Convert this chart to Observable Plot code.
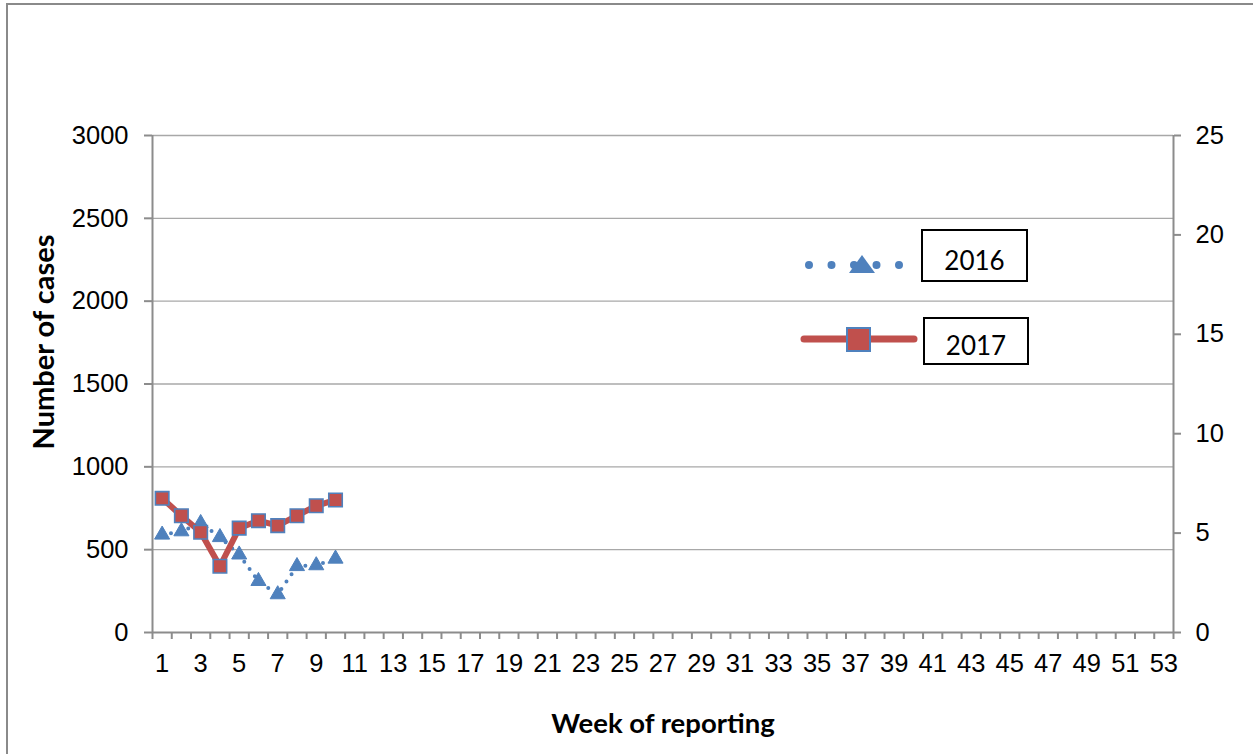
<!DOCTYPE html>
<html>
<head>
<meta charset="utf-8">
<script src="https://cdn.jsdelivr.net/npm/d3@7"></script>
<script src="https://cdn.jsdelivr.net/npm/@observablehq/plot@0.6"></script>
<style>
  html, body { margin: 0; padding: 0; background: #fff; overflow: hidden; }
  #wrap { position: relative; width: 1253px; height: 754px; overflow: hidden; }
  #frame { position: absolute; left: 6px; top: 3px; width: 1247px; height: 751px;
           border-left: 2px solid #8a8a8a; border-top: 2px solid #8a8a8a; box-sizing: border-box; }
  #chart { position: absolute; left: 0; top: 0; }
  .lgbox { position: absolute; border: 2px solid #000; box-sizing: border-box; background: #fff;
           font-family: Lato, "Open Sans", sans-serif; font-size: 26px; color: #000;
           display: flex; align-items: center; justify-content: center; }
  #lgsvg { position: absolute; left: 0; top: 0; }
</style>
</head>
<body>
<div id="wrap">
  <div id="frame"></div>
  <div id="chart"></div>
</div>
<script>
// ---- data ----
const weeks = [1, 2, 3, 4, 5, 6, 7, 8, 9, 10];
const cases2016 = [590, 610, 660, 575, 470, 310, 230, 400, 405, 445];
const cases2017 = [810, 705, 605, 400, 630, 675, 645, 705, 765, 800];
const seriesNames = ["2016", "2017"];
const weekLabels = d3.range(1, 54, 2);          // 1, 3, ..., 53
const leftTicks = [0, 500, 1000, 1500, 2000, 2500, 3000];
const rightTicks = [0, 5, 10, 15, 20, 25];
const rightMax = 25, leftMax = 3000;

const blue = "#4F81BD", red = "#C0504D", axisGray = "#8c8c8c", gridGray = "#a8a8a8";

const d2016 = weeks.map((w, i) => ({week: w, value: cases2016[i]}));
const d2017 = weeks.map((w, i) => ({week: w, value: cases2017[i]}));
const ratio = leftMax / rightMax;

const W = 1253, H = 754;
const mL = 152, mR = 80, mT = 135, mB = 122;
const tickFont = 25.5;

const chart = Plot.plot({
  width: W, height: H,
  marginLeft: mL, marginRight: mR, marginTop: mT, marginBottom: mB,
  style: {fontFamily: '"Liberation Sans", Arial, sans-serif', fontSize: "24px", color: "#000", background: "transparent", overflow: "visible"},
  x: {domain: [0.5, 53.5], axis: null},
  y: {domain: [0, leftMax], axis: null},
  marks: [
    Plot.gridY(leftTicks.slice(1), {stroke: gridGray, strokeOpacity: 1, strokeWidth: 1.3}),
    // axis lines
    Plot.ruleX([0.5], {stroke: axisGray, strokeWidth: 2}),
    Plot.ruleX([53.5], {stroke: axisGray, strokeWidth: 2}),
    Plot.ruleY([0], {stroke: axisGray, strokeWidth: 2}),
    // left axis
    Plot.axisY(leftTicks, {anchor: "left", tickSize: 8, tickPadding: 16, stroke: axisGray, strokeWidth: 2, fill: "#000", fontSize: tickFont, tickFormat: d3.format("d"), label: null}),
    // right axis (secondary, 0-25)
    Plot.axisY(rightTicks.map(v => v * ratio), {anchor: "right", tickSize: 7, tickPadding: 15, stroke: axisGray, strokeWidth: 2, fill: "#000", fontSize: tickFont, tickFormat: d => d3.format("d")(d / ratio), label: null}),
    // x ticks between categories
    Plot.axisX(d3.range(0.5, 54, 1), {anchor: "bottom", tickSize: 7, stroke: axisGray, strokeWidth: 2, tickFormat: () => "", label: null}),
    // x labels
    Plot.axisX(weekLabels, {anchor: "bottom", tickSize: 0, tickPadding: 21, fill: "#000", fontSize: tickFont, tickFormat: d3.format("d"), label: null}),
    // 2016 dotted line with triangles
    Plot.line(d2016, {x: "week", y: "value", stroke: blue, strokeWidth: 4, strokeDasharray: "0 9", strokeLinecap: "round"}),
    Plot.dot(d2016, {x: "week", y: "value", symbol: "triangle", r: 5.6, fill: blue, stroke: blue, strokeWidth: 1}),
    // 2017 thick line with squares
    Plot.line(d2017, {x: "week", y: "value", stroke: red, strokeWidth: 6}),
    Plot.dot(d2017, {x: "week", y: "value", symbol: "square", r: 7.6, fill: red, stroke: blue, strokeWidth: 1.6}),
    // axis titles
    Plot.text(["Week of reporting"], {frameAnchor: "bottom", dy: 92, textAnchor: "middle", lineAnchor: "middle", fontFamily: "Lato, sans-serif", fontWeight: "bold", fontSize: 27.5, fill: "#000"}),
    Plot.text(["Number of cases"], {frameAnchor: "left", dx: -108, dy: -42, rotate: -90, textAnchor: "middle", lineAnchor: "middle", fontFamily: "Lato, sans-serif", fontWeight: "bold", fontSize: 29, fill: "#000"})
  ]
});
document.getElementById("chart").appendChild(chart);

// ---- legend overlay (inside plot area, as in the reference) ----
const wrap = document.getElementById("wrap");
const ns = "http://www.w3.org/2000/svg";
const lg = document.createElementNS(ns, "svg");
lg.setAttribute("id", "lgsvg");
lg.setAttribute("width", W);
lg.setAttribute("height", H);
lg.innerHTML = `
  <line x1="809" y1="265" x2="900" y2="265" stroke="${blue}" stroke-width="8" stroke-dasharray="0 22.5" stroke-linecap="round"/>
  <path d="M862,255 L875,273 L849,273 Z" fill="${blue}"/>
  <line x1="804" y1="339" x2="914" y2="339" stroke="${red}" stroke-width="7" stroke-linecap="round"/>
  <rect x="847" y="328" width="23" height="23" fill="${red}" stroke="${blue}" stroke-width="2"/>
`;
wrap.appendChild(lg);

const boxes = [
  {name: seriesNames[0], left: 921, top: 229, w: 107, h: 53, pad: 8},
  {name: seriesNames[1], left: 923, top: 317, w: 106, h: 48, pad: 8}
];
boxes.forEach(b => {
  const d = document.createElement("div");
  d.className = "lgbox";
  d.style.left = b.left + "px"; d.style.top = b.top + "px";
  d.style.width = b.w + "px"; d.style.height = b.h + "px";
  d.style.paddingTop = b.pad + "px";
  d.textContent = b.name;
  wrap.appendChild(d);
});
</script>
</body>
</html>
